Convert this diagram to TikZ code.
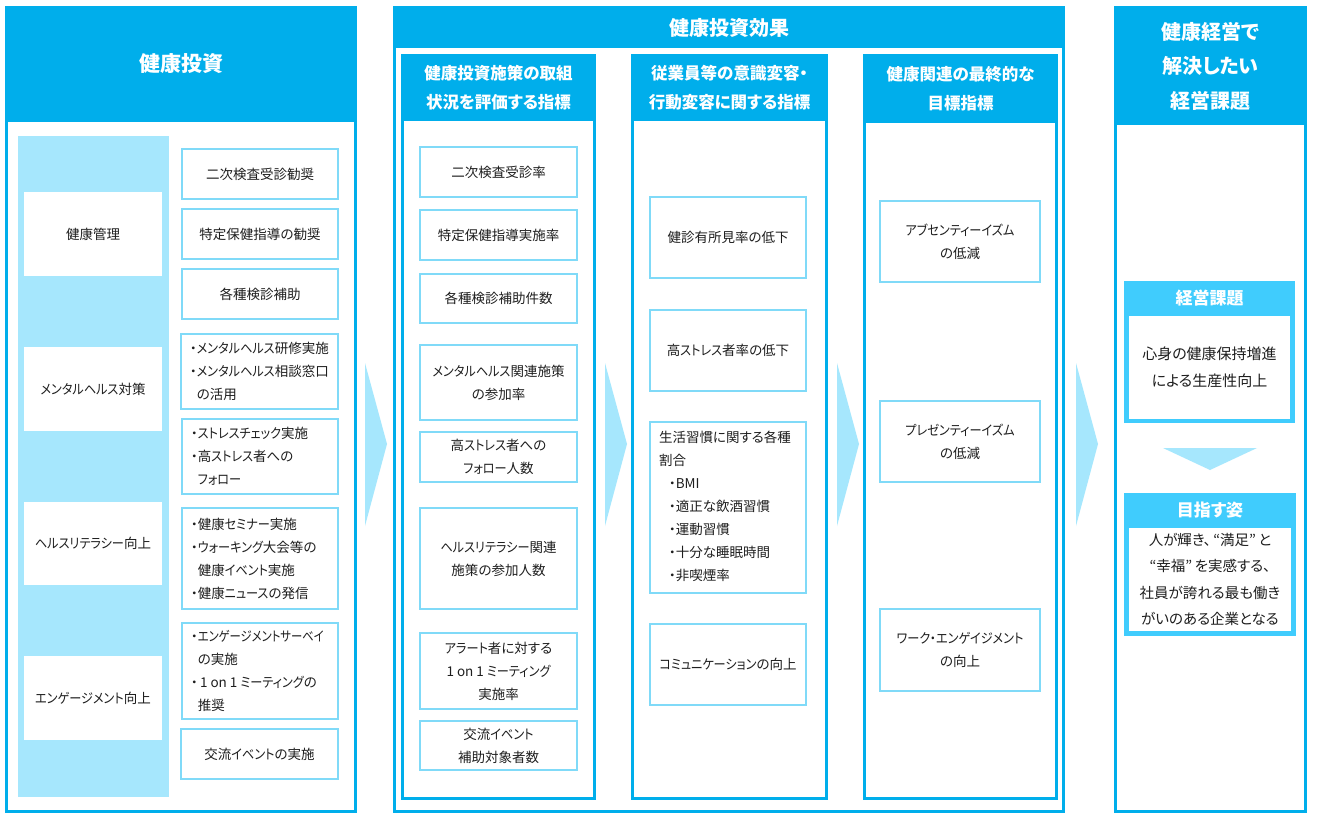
\documentclass[tikz,border=0pt]{standalone}
\usepackage{fontspec}
\setmainfont{Noto Sans CJK JP}[RawFeature=+palt]
\definecolor{hdr}{HTML}{00AEEB}
\definecolor{band}{HTML}{A6E7FD}
\definecolor{bdr}{HTML}{80DAF8}
\definecolor{goal}{HTML}{40CCFD}
\definecolor{txt}{HTML}{1E1E1E}
\tikzset{
  ibox/.style={draw=bdr, line width=2pt, fill=white, inner sep=0pt, outer sep=0pt,
    text=txt, align=center, font=\fontsize{13.5}{23}\selectfont},
  lbl/.style={fill=white, inner sep=0pt, outer sep=0pt, text=txt, align=center,
    font=\fontsize{13.5}{23}\selectfont},
  ltxt/.style={inner sep=0pt, outer sep=0pt, text=txt, align=left, anchor=west,
    font=\fontsize{13.5}{23}\selectfont},
  ttl/.style={text=white, font=\bfseries\fontsize{20}{26}\selectfont, inner sep=0pt, align=center},
  sttl/.style={text=white, font=\bfseries\fontsize{16.5}{29}\selectfont, inner sep=0pt, align=center},
  bigarrow/.style={fill=band},
}
\newcommand{\ibx}[6]{\node[ibox, minimum width={#4pt-#2pt-2pt}, minimum height={#5pt-#3pt-2pt}] (#1) at ({(#2+#4)/2},{(#3+#5)/2}) {#6};}
\newcommand{\lbx}[6]{\node[lbl, minimum width={#4pt-#2pt}, minimum height={#5pt-#3pt}] (#1) at ({(#2+#4)/2},{(#3+#5)/2}) {#6};}
\newcommand{\ind}{\phantom{・}}
\newcommand{\kn}[1]{\scalebox{0.9}[1]{#1}}
\newcommand{\knn}[1]{\scalebox{0.84}[1]{#1}}
\begin{document}
\begin{tikzpicture}[x=1pt,y=-1pt]
\useasboundingbox (0,0) rectangle (1317,817);
\fill[white] (0,0) rectangle (1317,817);

% ---------- left panel ----------
\fill[hdr] (5,6) rectangle (357,813);
\fill[white] (8,122) rectangle (354,810);
\node[ttl, font=\bfseries\fontsize{21}{26}\selectfont] (t1) at (181,64) {健康投資};
\fill[band] (18,136) rectangle (169,797);
\lbx{l1}{24}{192}{162}{276}{健康管理}
\lbx{l2}{24}{347}{162}{431}{\kn{メンタルヘルス}対策}
\lbx{l3}{24}{502}{162}{585}{\kn{ヘルスリテラシー}向上}
\lbx{l4}{24}{656}{162}{740}{\kn{エンゲージメント}向上}

\ibx{a1}{181}{148}{339}{200}{二次検査受診勧奨}
\ibx{a2}{181}{208}{339}{260}{特定保健指導の勧奨}
\ibx{a3}{181}{268}{339}{320}{各種検診補助}
\ibx{a4}{180}{333}{339}{410}{}
\node[ltxt] (a4t) at ([xshift=9pt]a4.west) {・\kn{メンタルヘルス}研修実施\\・\kn{メンタルヘルス}相談窓口\\\ind の活用};
\ibx{a5}{181}{418}{339}{495}{}
\node[ltxt] (a5t) at ([xshift=9pt]a5.west) {・\kn{ストレスチェック}実施\\・高\kn{ストレス}者への\\\ind \kn{フォロー}};
\ibx{a6}{181}{507}{339}{610}{}
\node[ltxt] (a6t) at ([xshift=9pt]a6.west) {・健康\kn{セミナー}実施\\・\kn{ウォーキング}大会等の\\\ind 健康\kn{イベント}実施\\・健康\kn{ニュース}の発信};
\ibx{a7}{181}{622}{339}{720}{}
\node[ltxt] (a7t) at ([xshift=9pt]a7.west) {・\knn{エンゲージメントサーベイ}\\\ind の実施\\・\,1 on 1 \kn{ミーティング}の\\\ind 推奨};
\ibx{a8}{180}{728}{339}{780}{交流\kn{イベント}の実施}

% ---------- middle panel ----------
\fill[hdr] (393,6) rectangle (1065,813);
\fill[white] (396,48) rectangle (1062,810);
\node[ttl] (t2) at (729,28) {健康投資効果};

% column A
\fill[hdr] (401,54) rectangle (596,800);
\fill[white] (404,121) rectangle (593,797);
\node[sttl] (tA) at (498.5,88) {健康投資施策の取組\\状況を評価する指標};
\ibx{b1}{419}{146}{578}{198}{二次検査受診率}
\ibx{b2}{419}{209}{578}{261}{特定保健指導実施率}
\ibx{b3}{419}{273}{578}{324}{各種検診補助件数}
\ibx{b4}{419}{344}{578}{421}{\kn{メンタルヘルス}関連施策\\の参加率}
\ibx{b5}{419}{431}{578}{483}{高\kn{ストレス}者への\\\kn{フォロー}人数}
\ibx{b6}{419}{507}{578}{610}{\kn{ヘルスリテラシー}関連\\施策の参加人数}
\ibx{b7}{419}{632}{578}{710}{\kn{アラート}者に対する\\1 on 1 \kn{ミーティング}\\実施率}
\ibx{b8}{419}{720}{578}{771}{交流\kn{イベント}\\補助対象者数}

% column B
\fill[hdr] (631,54) rectangle (828,800);
\fill[white] (634,121) rectangle (825,797);
\node[sttl] (tB) at (729.5,88) {従業員等の意識変容・\\行動変容に関する指標};
\ibx{c1}{649}{196}{807}{279}{健診有所見率の低下}
\ibx{c2}{649}{309}{807}{392}{高\kn{ストレス}者率の低下}
\ibx{c3}{649}{421}{807}{594}{}
\node[ltxt] (c3t) at ([xshift=9pt,yshift=1pt]c3.west) {生活習慣に関する各種\\割合\\\hspace*{10pt}・BMI\\\hspace*{10pt}・適正な飲酒習慣\\\hspace*{10pt}・運動習慣\\\hspace*{10pt}・十分な睡眠時間\\\hspace*{10pt}・非喫煙率};
\ibx{c4}{649}{623}{807}{706}{\kn{コミュニケーション}の向上}

% column C
\fill[hdr] (863,54) rectangle (1058,800);
\fill[white] (866,123) rectangle (1055,797);
\node[sttl] (tC) at (960.5,89) {健康関連の最終的な\\目標指標};
\ibx{d1}{879}{200}{1041}{283}{\kn{アブセンティーイズム}\\の低減}
\ibx{d2}{879}{400}{1041}{483}{\kn{プレゼンティーイズム}\\の低減}
\ibx{d3}{879}{608}{1041}{692}{\kn{ワーク・エンゲイジメント}\\の向上}

% ---------- right panel ----------
\fill[hdr] (1114,6) rectangle (1307,813);
\fill[white] (1117,125) rectangle (1304,810);
\node[ttl, font=\bfseries\fontsize{20}{34.5}\selectfont] (t3) at (1210.5,66) {健康経営で\\解決したい\\経営課題};

\fill[goal] (1124,281) rectangle (1295,423);
\node[sttl, font=\bfseries\fontsize{17}{22}\selectfont] (g1t) at (1209.5,298) {経営課題};
\node[lbl, minimum width=161pt, minimum height=103pt, font=\fontsize{15}{27}\selectfont] (g1) at (1209.5,367.5) {心身の健康保持増進\\による生産性向上};

\fill[band] (1163,448) -- (1257,448) -- (1210,470) -- cycle;

\fill[goal] (1124,493) rectangle (1296,636);
\node[sttl, font=\bfseries\fontsize{17}{22}\selectfont] (g2t) at (1210,510) {目指す姿};
\node[lbl, minimum width=162pt, minimum height=103pt, font=\fontsize{14.5}{26.5}\selectfont] (g2) at (1210,579.5) {人が輝き、\,“満足”\,と\\“幸福”\,を実感する、\\社員が誇れる最も働き\\がいのある企業となる};

% ---------- arrows ----------
\fill[bigarrow] (365,363) -- (387,444) -- (365,526) -- cycle;
\fill[bigarrow] (605,363) -- (627,444) -- (605,526) -- cycle;
\fill[bigarrow] (837,363) -- (859,444) -- (837,526) -- cycle;
\fill[bigarrow] (1076,363) -- (1098,444) -- (1076,526) -- cycle;
\end{tikzpicture}
\end{document}
